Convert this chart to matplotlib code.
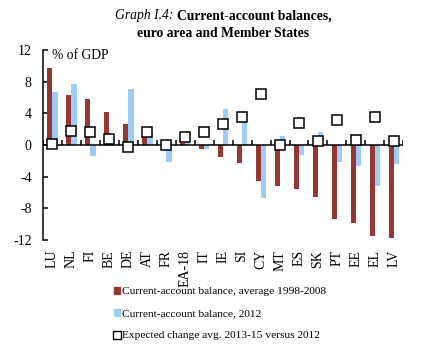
import numpy as np
import matplotlib.pyplot as plt
from matplotlib.patches import Patch
from matplotlib.lines import Line2D

plt.rcParams['font.family'] = ['Liberation Serif', 'DejaVu Serif']
plt.rcParams['axes.unicode_minus'] = False

countries = ['LU', 'NL', 'FI', 'BE', 'DE', 'AT', 'FR', 'EA-18', 'IT', 'IE',
             'SI', 'CY', 'MT', 'ES', 'SK', 'PT', 'EE', 'EL', 'LV']
avg_1998_2008 = [9.7, 6.3, 5.8, 4.2, 2.7, 1.0, -0.1, 0.3, -0.5, -1.5,
                 -2.3, -4.6, -5.2, -5.5, -6.5, -9.4, -9.8, -11.5, -11.7]
ca_2012 = [6.7, 7.7, -1.4, -0.1, 7.1, 1.6, -2.1, 1.8, -0.5, 4.5,
           3.3, -6.7, 1.1, -1.2, 1.7, -2.2, -2.7, -5.2, -2.4]
exp_change = [0.1, 1.8, 1.7, 0.7, -0.3, 1.6, 0.0, 1.0, 1.7, 2.65,
              3.5, 6.5, 0.0, 2.8, 0.5, 3.1, 0.6, 3.5, 0.5]

red = '#953735'
blue = '#9DCCF7'

fig = plt.figure(figsize=(4.25, 3.52), dpi=100)
ax = fig.add_axes([0.101, 0.318, 0.848, 0.540])

x = np.arange(len(countries))
w = 0.28
ax.bar(x - w / 2, avg_1998_2008, w, color=red, zorder=2)
ax.bar(x + w / 2, ca_2012, w, color=blue, zorder=2)
ax.plot(x, exp_change, 's', ms=7.5, mfc='white', mec='black', mew=1.1, zorder=4)

ax.axhline(0, color='black', lw=1.1, zorder=3)
ax.vlines(np.arange(len(countries) + 1) - 0.5, 0, 0.6, color='black', lw=1.1, zorder=3)

ax.set_xlim(-0.5, len(countries) - 0.5)
ax.set_ylim(-12, 12)
ax.set_yticks(np.arange(-12, 13, 4))
ax.tick_params(axis='y', direction='in', length=3.5, width=1.1, labelsize=10, pad=8)
ax.set_xticks(x)
ax.set_xticklabels(countries, rotation=90, fontsize=10)
ax.tick_params(axis='x', length=0, pad=7)
for s in ['top', 'right', 'bottom']:
    ax.spines[s].set_visible(False)
ax.spines['left'].set_linewidth(1.1)

ax.text(0.0, 12.1, '% of GDP', fontsize=9.8, va='top', ha='left')

# title: italic prefix + bold text, centred together
fs = 9.8
t1 = fig.text(0, 0.955, 'Graph I.4: ', fontsize=fs, fontstyle='italic', ha='left', va='center')
t2 = fig.text(0, 0.955, 'Current-account balances,', fontsize=fs,
              fontweight='bold', ha='left', va='center')
r = fig.canvas.get_renderer()
w1 = t1.get_window_extent(r).width / fig.bbox.width
w2 = t2.get_window_extent(r).width / fig.bbox.width
x0 = 0.525 - (w1 + w2) / 2
t1.set_x(x0)
t2.set_x(x0 + w1)
fig.text(0.525, 0.905, 'euro area and Member States', fontsize=fs,
         fontweight='bold', ha='center', va='center')

handles = [Patch(color=red), Patch(color=blue),
           Line2D([], [], marker='s', ls='', ms=5.5, mfc='white', mec='black', mew=1)]
labels = ['Current-account balance, average 1998-2008',
          'Current-account balance, 2012',
          'Expected change avg. 2013-15 versus 2012']
fig.legend(handles, labels, loc='upper left', bbox_to_anchor=(0.268, 0.185),
           frameon=False, fontsize=8.2, handlelength=0.55, handleheight=0.55,
           handletextpad=0.2, labelspacing=1.1, borderpad=0, borderaxespad=0)

fig.savefig('out.png', dpi=100)
